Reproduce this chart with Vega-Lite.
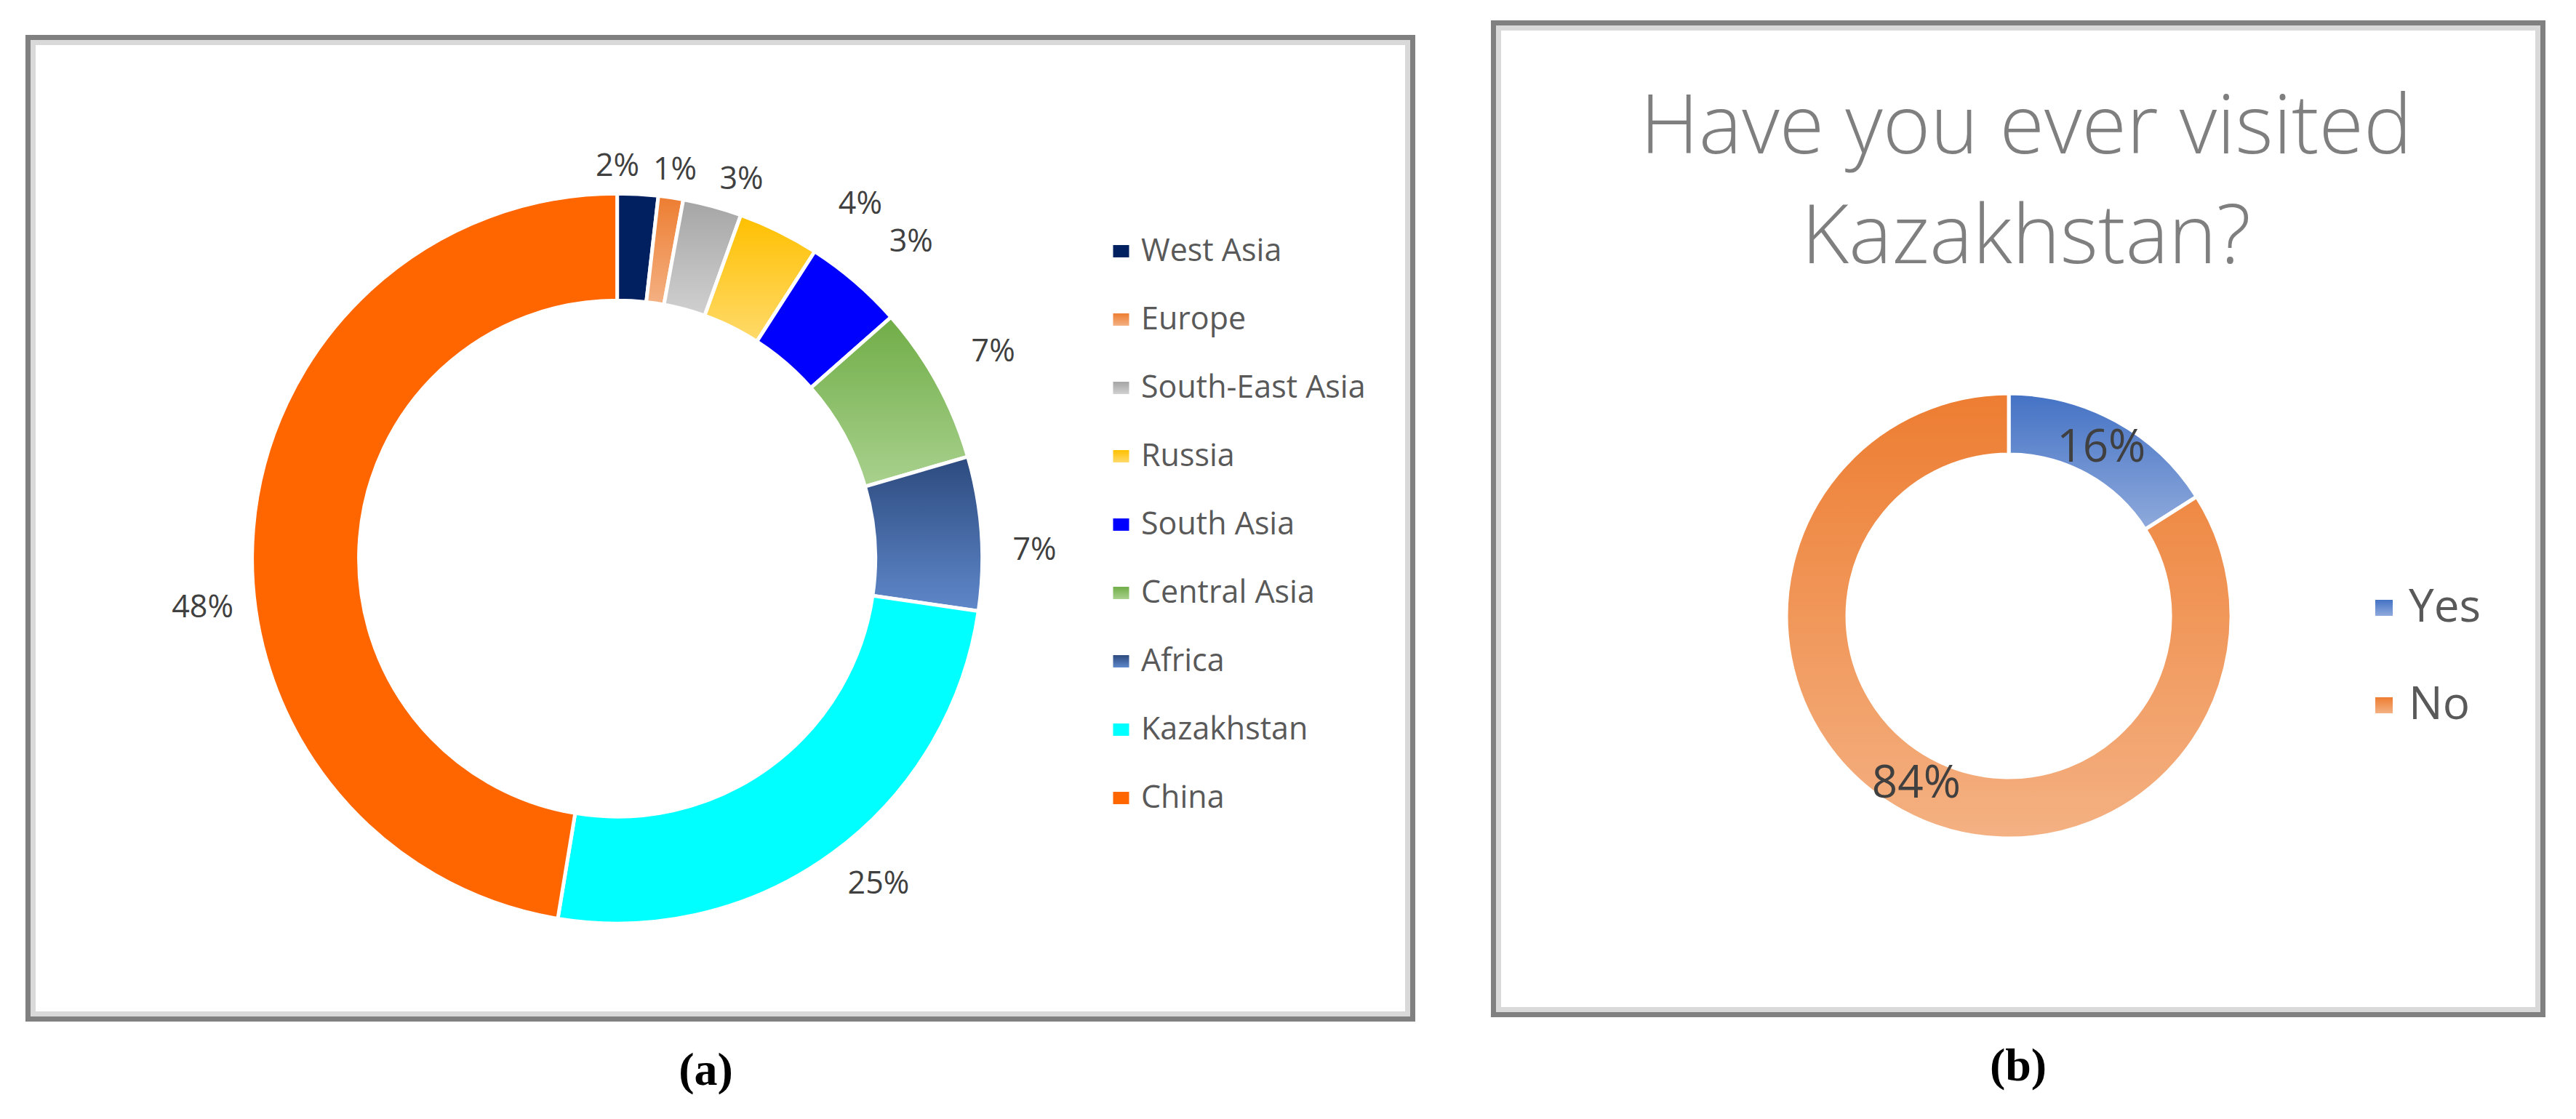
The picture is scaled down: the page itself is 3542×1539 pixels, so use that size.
{
  "$schema": "https://vega.github.io/schema/vega-lite/v6.json",
  "background": "white",
  "padding": {"left": 35, "top": 28, "right": 0, "bottom": 0},
  "spacing": 104,
  "resolve": {"scale": {"color": "independent"}, "legend": {"color": "independent"}},
  "config": {
    "view": {"stroke": "#808080", "strokeWidth": 14},
    "font": "Open Sans"
  },
  "hconcat": [
    {
      "title": {"text": "(a)", "orient": "bottom", "anchor": "middle", "font": "Liberation Serif", "fontSize": 64, "fontWeight": "bold", "color": "#000000", "offset": 36, "dx": -20},
      "spacing": 12,
      "vconcat": [
        {
          "width": 1897,
          "height": 1,
          "view": {"stroke": null},
          "data": {"values": []},
          "mark": {"type": "rule"},
          "encoding": {}
        },
        {
          "width": 1897,
          "height": 1343,
          "view": {"stroke": "#808080", "strokeWidth": 14},
          "data": {
            "values": [
              {"idx": 1, "region": "West Asia", "value": 1.8, "label": "2%"},
              {"idx": 2, "region": "Europe", "value": 1.1, "label": "1%"},
              {"idx": 3, "region": "South-East Asia", "value": 2.6, "label": "3%"},
              {"idx": 4, "region": "Russia", "value": 3.6, "label": "4%"},
              {"idx": 5, "region": "South Asia", "value": 4.4, "label": "3%"},
              {"idx": 6, "region": "Central Asia", "value": 7.0, "label": "7%"},
              {"idx": 7, "region": "Africa", "value": 6.8, "label": "7%"},
              {"idx": 8, "region": "Kazakhstan", "value": 25.3, "label": "25%"},
              {"idx": 9, "region": "China", "value": 47.4, "label": "48%"}
            ]
          },
          "layer": [
            {
              "data": {"values": [{"frame": "panel a"}]},
              "mark": {"type": "rect", "fill": "white", "fillOpacity": 0, "stroke": "#D9D9D9", "strokeWidth": 14, "clip": true},
              "encoding": {}
            },
            {
              "mark": {"type": "arc", "innerRadius": 355, "outerRadius": 502, "stroke": "white", "strokeWidth": 5},
              "encoding": {
                "x": {"datum": 0.4252, "type": "quantitative", "scale": {"domain": [0, 1], "nice": false, "zero": false}, "axis": null},
                "y": {"datum": 0.531, "type": "quantitative", "scale": {"domain": [0, 1], "reverse": true, "nice": false, "zero": false}, "axis": null},
                "theta": {"field": "value", "type": "quantitative", "stack": true},
                "order": {"field": "idx", "type": "quantitative"},
                "color": {
                  "field": "region",
                  "type": "nominal",
                  "scale": {
                    "domain": ["West Asia", "Europe", "South-East Asia", "Russia", "South Asia", "Central Asia", "Africa", "Kazakhstan", "China"],
                    "range": [
                      "#002060",
                      {"expr": "{gradient: 'linear', x1: 0, y1: 0, x2: 0, y2: 1, stops: [{offset: 0, color: '#ED7D31'}, {offset: 1, color: '#F4B183'}]}"},
                      {"expr": "{gradient: 'linear', x1: 0, y1: 0, x2: 0, y2: 1, stops: [{offset: 0, color: '#A5A5A5'}, {offset: 1, color: '#D0D0D0'}]}"},
                      {"expr": "{gradient: 'linear', x1: 0, y1: 0, x2: 0, y2: 1, stops: [{offset: 0, color: '#FFC000'}, {offset: 1, color: '#FFDA6A'}]}"},
                      "#0000FF",
                      {"expr": "{gradient: 'linear', x1: 0, y1: 0, x2: 0, y2: 1, stops: [{offset: 0, color: '#70AD47'}, {offset: 1, color: '#A9D18E'}]}"},
                      {"expr": "{gradient: 'linear', x1: 0, y1: 0, x2: 0, y2: 1, stops: [{offset: 0, color: '#2C4A7E'}, {offset: 1, color: '#5F88CA'}]}"},
                      "#00FFFF",
                      "#FF6600"
                    ]
                  },
                  "legend": {
                    "orient": "none", "legendX": 1478, "legendY": 289, "title": null,
                    "labelFont": "Open Sans", "labelFontSize": 43, "labelColor": "#595959", "labelLimit": 0,
                    "symbolType": "M-1,-0.77H1V0.77H-1Z", "symbolSize": 484, "symbolStrokeWidth": 0,
                    "rowPadding": 50, "labelOffset": 6
                  }
                }
              }
            },
            {
              "mark": {"type": "text", "radius": 558, "font": "Open Sans", "fontSize": 43, "fill": "#404040",
                "align": {"expr": "datum.idx == 1 ? 'right' : (datum.idx >= 3 && datum.idx <= 5 ? 'left' : 'center')"},
                "thetaOffset": {"expr": "datum.idx == 9 ? -0.2 : (datum.idx == 4 ? 0.1 : (datum.idx == 7 ? 0.05 : (datum.idx == 8 ? -0.045 : 0)))"},
                "radiusOffset": {"expr": "datum.idx <= 3 ? -18 : (datum.idx == 6 ? 32 : 16)"}},
              "encoding": {
                "x": {"datum": 0.4252, "type": "quantitative", "scale": {"domain": [0, 1], "nice": false, "zero": false}, "axis": null},
                "y": {"datum": 0.531, "type": "quantitative", "scale": {"domain": [0, 1], "reverse": true, "nice": false, "zero": false}, "axis": null},
                "theta": {"field": "value", "type": "quantitative", "stack": true},
                "order": {"field": "idx", "type": "quantitative"},
                "text": {"field": "label", "type": "nominal"}
              }
            }
          ]
        }
      ]
    },
    {
      "title": {"text": "(b)", "orient": "bottom", "anchor": "middle", "font": "Liberation Serif", "fontSize": 64, "fontWeight": "bold", "color": "#000000", "offset": 36},
      "vconcat": [
        {
          "width": 1436,
          "height": 1357,
          "view": {"stroke": "#808080", "strokeWidth": 14},
          "title": {"text": ["Have you ever visited", "Kazakhstan?"], "orient": "top", "anchor": "middle", "font": "Open Sans", "fontSize": 112, "fontWeight": 300, "color": "#7F7F7F", "lineHeight": 151, "baseline": "top", "offset": -351, "dx": 11},
          "data": {
            "values": [
              {"idx": 1, "answer": "Yes", "value": 16, "label": "16%"},
              {"idx": 2, "answer": "No", "value": 84, "label": "84%"}
            ]
          },
          "layer": [
            {
              "data": {"values": [{"frame": "panel b"}]},
              "mark": {"type": "rect", "fill": "white", "fillOpacity": 0, "stroke": "#D9D9D9", "strokeWidth": 14, "clip": true},
              "encoding": {}
            },
            {
              "mark": {"type": "arc", "innerRadius": 222, "outerRadius": 306, "stroke": "white", "strokeWidth": 5},
              "encoding": {
                "x": {"datum": 0.491, "type": "quantitative", "scale": {"domain": [0, 1], "nice": false, "zero": false}, "axis": null},
                "y": {"datum": 0.5984, "type": "quantitative", "scale": {"domain": [0, 1], "reverse": true, "nice": false, "zero": false}, "axis": null},
                "theta": {"field": "value", "type": "quantitative", "stack": true},
                "order": {"field": "idx", "type": "quantitative"},
                "color": {
                  "field": "answer",
                  "type": "nominal",
                  "scale": {
                    "domain": ["Yes", "No"],
                    "range": [
                      {"expr": "{gradient: 'linear', x1: 0, y1: 0, x2: 0, y2: 1, stops: [{offset: 0, color: '#4472C4'}, {offset: 1, color: '#8FAADC'}]}"},
                      {"expr": "{gradient: 'linear', x1: 0, y1: 0, x2: 0, y2: 1, stops: [{offset: 0, color: '#ED7D31'}, {offset: 1, color: '#F4B183'}]}"}
                    ]
                  },
                  "legend": {
                    "orient": "none", "legendX": 1190, "legendY": 770, "title": null,
                    "labelFont": "Open Sans", "labelFontSize": 62, "labelColor": "#595959", "labelLimit": 0,
                    "symbolType": "M-1,-0.92H1V0.92H-1Z", "symbolSize": 576, "symbolStrokeWidth": 0,
                    "rowPadding": 72, "labelOffset": 3
                  }
                }
              }
            },
            {
              "mark": {"type": "text", "radius": 264, "font": "Open Sans", "fontSize": 62, "fill": "#404040"},
              "encoding": {
                "x": {"datum": 0.491, "type": "quantitative", "scale": {"domain": [0, 1], "nice": false, "zero": false}, "axis": null},
                "y": {"datum": 0.5984, "type": "quantitative", "scale": {"domain": [0, 1], "reverse": true, "nice": false, "zero": false}, "axis": null},
                "theta": {"field": "value", "type": "quantitative", "stack": true},
                "order": {"field": "idx", "type": "quantitative"},
                "text": {"field": "label", "type": "nominal"}
              }
            }
          ]
        }
      ]
    }
  ]
}
